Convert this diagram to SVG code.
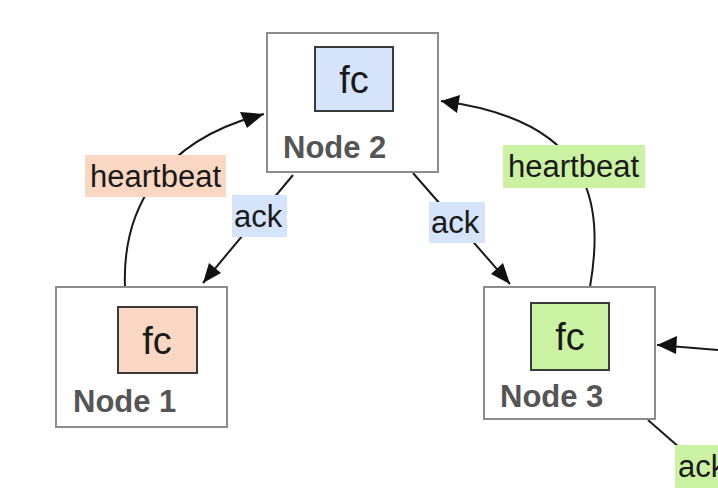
<svg xmlns="http://www.w3.org/2000/svg" width="718" height="490" viewBox="0 0 718 490">
  <defs>
    <style>
      .node { fill: #ffffff; stroke: #8c8c8c; stroke-width: 2; }
      .fc { stroke: #3a3a3a; stroke-width: 2; }
      .fc-text { font-family: "Liberation Sans", Arial, sans-serif; font-size: 38px; fill: #1a1a1a; text-anchor: middle; }
      .name { font-family: "Liberation Sans", Arial, sans-serif; font-size: 31px; font-weight: bold; fill: #555555; }
      .edge { fill: none; stroke: #1a1a1a; stroke-width: 2; }
      .head { fill: #111111; }
      .lbl { font-family: "Liberation Sans", Arial, sans-serif; font-size: 31px; fill: #1a1a1a; }
      .blue { fill: #d5e3fb; }
      .orange { fill: #f9d7c2; }
      .green { fill: #cbf2a2; }
    </style>
  </defs>
  <rect width="718" height="490" fill="#ffffff"/>

  <!-- connectors: lines plus their filled arrowheads -->
  <g id="connectors">
    <path class="edge" d="M125,287 C122,210 160,140 264,114"/>
    <path class="edge" d="M590,287 C605,200 590,120 441,101"/>
    <line class="edge" x1="293" y1="175" x2="203" y2="283"/>
    <line class="edge" x1="413" y1="173" x2="510" y2="284"/>
    <line class="edge" x1="718" y1="350" x2="657" y2="345"/>
    <line class="edge" x1="648" y1="420" x2="680" y2="448"/>
    <polygon class="head" points="264,114 247,128 240,112"/>
    <polygon class="head" points="441,101 460,95 457,113"/>
    <polygon class="head" points="203,283 209,263 221,273"/>
    <polygon class="head" points="510,284 491,274 503,263"/>
    <polygon class="head" points="657,345 677,336 676,354"/>
  </g>

  <!-- edge labels -->
  <g id="label-hb-left">
    <rect class="orange" x="85" y="155" width="141" height="42"/>
    <text class="lbl" x="90" y="187">heartbeat</text>
  </g>
  <g id="label-ack-left">
    <rect class="blue" x="232" y="195" width="55" height="42"/>
    <text class="lbl" x="234" y="227">ack</text>
  </g>
  <g id="label-ack-right">
    <rect class="blue" x="429" y="202" width="56" height="41"/>
    <text class="lbl" x="431" y="233">ack</text>
  </g>
  <g id="label-hb-right">
    <rect class="green" x="503" y="145" width="142" height="43"/>
    <text class="lbl" x="508" y="177">heartbeat</text>
  </g>
  <g id="label-ack-bottom">
    <rect class="green" x="675" y="445" width="50" height="43"/>
    <text class="lbl" x="678" y="477">ack</text>
  </g>

  <!-- nodes -->
  <g id="node2">
    <rect class="node" x="267" y="33" width="171" height="139"/>
    <rect class="fc blue" x="315" y="47" width="78" height="64"/>
    <text class="fc-text" x="354" y="93">fc</text>
    <text class="name" x="283" y="158">Node 2</text>
  </g>
  <g id="node1">
    <rect class="node" x="56" y="287" width="171" height="140"/>
    <rect class="fc orange" x="118" y="307" width="79" height="66"/>
    <text class="fc-text" x="157" y="354">fc</text>
    <text class="name" x="73" y="412">Node 1</text>
  </g>
  <g id="node3">
    <rect class="node" x="484" y="287" width="171" height="132"/>
    <rect class="fc green" x="531" y="303" width="78" height="67"/>
    <text class="fc-text" x="570" y="350">fc</text>
    <text class="name" x="500" y="407">Node 3</text>
  </g>
</svg>
